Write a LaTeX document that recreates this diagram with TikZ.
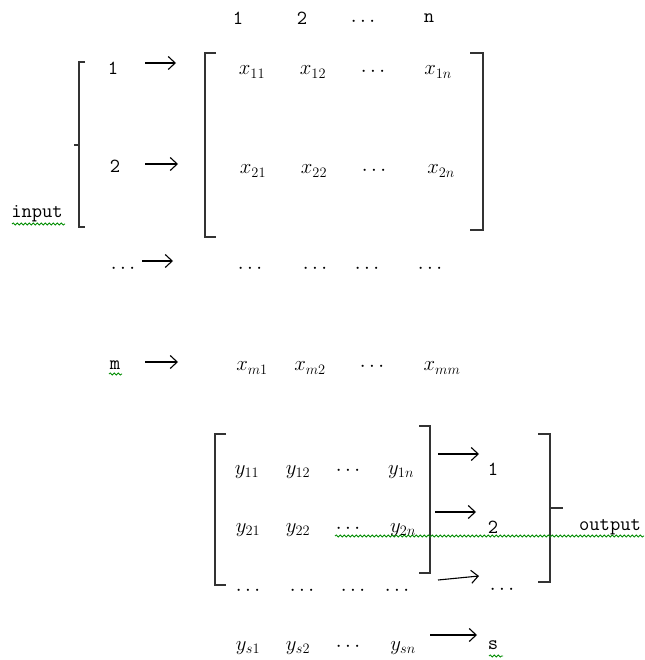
\documentclass[tikz,border=0pt]{standalone}
\usetikzlibrary{arrows.meta,decorations.pathmorphing}
\begin{document}
\begin{tikzpicture}[x=1pt,y=-1pt,
  lbl/.style={inner sep=0pt,font=\fontsize{20}{24}\selectfont\ttfamily},
  mth/.style={inner sep=0pt,font=\fontsize{21}{25}\selectfont},
  brk/.style={line width=1.1pt,draw=black!80},
  arr/.style={line width=1.1pt,-{Straight Barb[length=7pt,width=13pt]}},
  squig/.style={draw=green!55!black,line width=0.8pt,decorate,decoration={snake,amplitude=1.1pt,segment length=4pt}}]
\useasboundingbox (0,0) rectangle (644,660);
% header
\node[lbl] (h1) at (238,18) {1};
\node[lbl] (h2) at (302,18) {2};
\node[mth] (h3) at (363,22) {$\cdots$};
\node[lbl] (h4) at (429,18) {n};
% input bracket
\draw[brk] (85,62) -- (79,62) -- (79,227) -- (85,227);
\draw[brk] (79,145) -- (74,145);
\node[lbl] (in) at (37,214) {input};
\draw[squig] (12,224) -- (65,224);
% row labels and arrows
\node[lbl] (r1) at (113,68) {1};
\node[lbl] (r2) at (115,166) {2};
\node[mth] (r3) at (123,269) {$\cdots$};
\node[lbl] (r4) at (115,365) {m};
\draw[squig] (109,374) -- (122,374);
\coordinate (a1s) at (145,63); \coordinate (a1e) at (176,63);
\coordinate (a2s) at (145,164); \coordinate (a2e) at (178,164);
\coordinate (a3s) at (142,261); \coordinate (a3e) at (173,261);
\coordinate (a4s) at (145,362); \coordinate (a4e) at (178,362);
\draw[arr] (a1s) -- (a1e);
\draw[arr] (a2s) -- (a2e);
\draw[arr] (a3s) -- (a3e);
\draw[arr] (a4s) -- (a4e);
% X matrix brackets
\draw[brk] (216,53) -- (205,53) -- (205,237) -- (216,237);
\draw[brk] (470,53) -- (483,53) -- (483,230) -- (470,230);
% X entries
\node[mth] (x11) at (252,72) {$x_{11}$};
\node[mth] (x12) at (313,72) {$x_{12}$};
\node[mth] (x13) at (373,72) {$\cdots$};
\node[mth] (x14) at (438,72) {$x_{1n}$};
\node[mth] (x21) at (253,171) {$x_{21}$};
\node[mth] (x22) at (314,171) {$x_{22}$};
\node[mth] (x23) at (374,171) {$\cdots$};
\node[mth] (x24) at (441,171) {$x_{2n}$};
\node[mth] (x31) at (250,269) {$\cdots$};
\node[mth] (x32) at (315,269) {$\cdots$};
\node[mth] (x33) at (367,269) {$\cdots$};
\node[mth] (x34) at (430,269) {$\cdots$};
\node[mth] (x41) at (252,368) {$x_{m1}$};
\node[mth] (x42) at (310,368) {$x_{m2}$};
\node[mth] (x43) at (372,367) {$\cdots$};
\node[mth] (x44) at (442,368) {$x_{mm}$};
% Y matrix brackets
\draw[brk] (226,434) -- (215,434) -- (215,585) -- (226,585);
\draw[brk] (419,426) -- (430,426) -- (430,573) -- (419,573);
% Y entries
\node[mth] (y11) at (247,472) {$y_{11}$};
\node[mth] (y12) at (298,472) {$y_{12}$};
\node[mth] (y13) at (348,471) {$\cdots$};
\node[mth] (y14) at (401,472) {$y_{1n}$};
\node[mth] (y21) at (248,530) {$y_{21}$};
\node[mth] (y22) at (298,530) {$y_{22}$};
\node[mth] (y23) at (348,529) {$\cdots$};
\node[mth] (y24) at (403,530) {$y_{2n}$};
\node[mth] (y31) at (248,591) {$\cdots$};
\node[mth] (y32) at (302,591) {$\cdots$};
\node[mth] (y33) at (353,591) {$\cdots$};
\node[mth] (y34) at (397,591) {$\cdots$};
\node[mth] (y41) at (248,648) {$y_{s1}$};
\node[mth] (y42) at (298,648) {$y_{s2}$};
\node[mth] (y43) at (348,647) {$\cdots$};
\node[mth] (y44) at (403,648) {$y_{sn}$};
% output arrows and labels
\coordinate (b1s) at (438,454); \coordinate (b1e) at (479,454);
\coordinate (b2s) at (435,512); \coordinate (b2e) at (476,512);
\coordinate (b3s) at (438,580); \coordinate (b3e) at (479,576);
\coordinate (b4s) at (430,635); \coordinate (b4e) at (477,635);
\draw[arr] (b1s) -- (b1e);
\draw[arr] (b2s) -- (b2e);
\draw[arr] (b3s) -- (b3e);
\draw[arr] (b4s) -- (b4e);
\node[lbl] (o1) at (493,469) {1};
\node[lbl] (o2) at (493,527) {2};
\node[mth] (o3) at (502,590) {$\cdots$};
\node[lbl] (o4) at (493,645) {s};
\draw[squig] (489,656) -- (503,656);
% output bracket
\draw[brk] (538,434) -- (550,434) -- (550,582) -- (538,582);
\draw[brk] (550,508) -- (563,508);
\node[lbl] (out) at (610,527) {output};
\draw[squig] (335,536) -- (644,536);
\end{tikzpicture}
\end{document}
